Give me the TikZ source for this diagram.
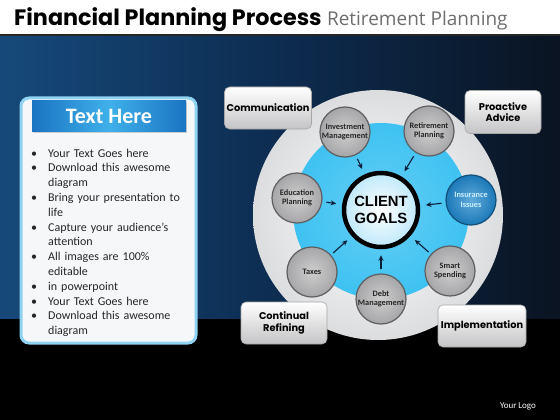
\documentclass[tikz,border=0pt]{standalone}
\usepackage{fontspec}
\setmainfont{Carlito}
\newfontfamily\titlefont{Poppins}
\newfontfamily\subfont{Open Sans}
\newfontfamily\goalfont{Liberation Sans}
\usetikzlibrary{arrows.meta,shadows}
\definecolor{navyL}{HTML}{16497A}
\definecolor{navyM}{HTML}{0D2C50}
\definecolor{navyR}{HTML}{0A1422}
\definecolor{panelEdge}{HTML}{8FD3F2}
\definecolor{panelFill}{HTML}{F5F7F9}
\definecolor{hdrA}{HTML}{1A74C2}
\definecolor{hdrB}{HTML}{3FB0EA}
\definecolor{ringGray}{HTML}{D8D9DB}
\definecolor{cyanRing}{HTML}{3EC2F2}
\definecolor{smallGray}{HTML}{A6A6A8}
\definecolor{smallEdge}{HTML}{5E5E60}
\definecolor{insBlue}{HTML}{1E86CC}
\definecolor{goalFill}{HTML}{BFE9FA}
\definecolor{boxGray}{HTML}{C4C4C6}
\definecolor{subGray}{HTML}{6E6E6E}
\definecolor{arrowCol}{HTML}{0B1E38}
\tikzset{
  small/.style={circle, draw=smallEdge, line width=1.2pt, minimum size=50pt, inner sep=0pt,
    inner color=smallGray!55, outer color=smallGray, align=center, font=\fontsize{8.3}{9.5}\selectfont\bfseries, text=black!85},
  greybox/.style={rounded corners=5pt, draw=gray!70, line width=0.6pt, top color=white, bottom color=boxGray,
    align=center, font=\titlefont\fontsize{9.8}{11.5}\selectfont\bfseries, text=black, inner sep=0pt},
  toarrow/.style={-{Stealth[length=5.5pt,width=5pt]}, line width=1.1pt, draw=arrowCol}
}
\begin{document}
\begin{tikzpicture}[x=1pt,y=-1pt]
\useasboundingbox (0,0) rectangle (560,420);
% background
\fill[white] (0,0) rectangle (560,35);
\fill[black] (0,316) rectangle (560,420);
\shade[left color=navyL, right color=navyR, middle color=navyM] (0,35) rectangle (560,318);
\fill[black!85] (0,34) rectangle (560,36);
% title
\node[anchor=base west, inner sep=0pt] (title) at (14,26)
  {\titlefont\fontsize{22.3}{25}\selectfont\bfseries Financial Planning Process};
\node[anchor=base west, inner sep=0pt, text=subGray] (subtitle) at ([xshift=5pt]title.base east)
  {\subfont\fontsize{19}{21}\selectfont Retirement Planning};
% left panel
\draw[draw=panelEdge, line width=3pt, fill=panelFill, rounded corners=8pt] (21,98) rectangle (196,343);
\node[rectangle, minimum width=154pt, minimum height=30pt, left color=hdrA, right color=hdrA,
  middle color=hdrB, text=white, font=\fontsize{22}{24}\selectfont\bfseries,
  drop shadow={shadow xshift=1pt, shadow yshift=-1.5pt, opacity=0.35}] (hdr) at (109,116) {Text Here};
\node[anchor=north west, inner sep=0pt, text width=162pt, font=\fontsize{12}{14.8}\selectfont, text=black!85]
  (bullets) at (27,142) {%
  \begin{list}{\textbullet}{\setlength{\leftmargin}{21pt}\setlength{\labelwidth}{10pt}\setlength{\labelsep}{11pt}%
    \setlength{\itemsep}{0pt}\setlength{\parsep}{0pt}\setlength{\topsep}{0pt}}
  \item Your Text Goes here
  \item Download this awesome diagram
  \item Bring your presentation to life
  \item Capture your audience’s attention
  \item All images are 100\% editable
  \item in powerpoint
  \item Your Text Goes here
  \item Download this awesome diagram
  \end{list}};
% diagram rings
\node[circle, minimum size=250pt, inner sep=0pt, inner color=white, outer color=ringGray!90] (outer) at (378,215) {};
\node[circle, minimum size=176pt, inner sep=0pt, inner color=cyanRing!80, outer color=cyanRing] (cyan) at (381,211) {};
\node[circle, minimum size=74pt, inner sep=0pt, draw=black, line width=4.5pt, inner color=white, outer color=goalFill,
  align=center, font=\goalfont\fontsize{14.8}{17.5}\selectfont\bfseries] (goal) at (381,210) {CLIENT\\GOALS};
% small circles
\node[small] (inv) at (345,132) {Investment\\Management};
\node[small] (ret) at (429,131) {Retirement\\Planning};
\node[small] (edu) at (297,198) {Education\\Planning};
\node[small, inner color=insBlue!70, outer color=insBlue!90!black, draw=insBlue!60!black, text=white!80!cyan] (ins) at (471,200) {Insurance\\Issues};
\node[small] (tax) at (312,272) {Taxes};
\node[small] (debt) at (381,299) {Debt\\Management};
\node[small] (smart) at (450,271) {Smart\\Spending};
% arrows
\draw[toarrow, shorten <=4pt, shorten >=6pt] (inv) -- (goal);
\draw[toarrow, shorten <=4pt, shorten >=6pt] (ret) -- (goal);
\draw[toarrow, shorten <=4pt, shorten >=6pt] (edu) -- (goal);
\draw[toarrow, shorten <=4pt, shorten >=6pt] (ins) -- (goal);
\draw[toarrow, shorten <=3pt, shorten >=6pt] (tax) -- (goal);
\draw[toarrow, shorten <=4pt, shorten >=6pt] (debt) -- (goal);
\draw[toarrow, shorten <=3pt, shorten >=6pt] (smart) -- (goal);
% grey boxes
\node[greybox, minimum width=87pt, minimum height=42pt] (comm) at (268,108) {Communication};
\node[greybox, minimum width=76pt, minimum height=43pt] (pro) at (503,112) {Proactive\\Advice};
\node[greybox, minimum width=86pt, minimum height=42pt] (cont) at (284,323) {Continual\\Refining};
\node[greybox, minimum width=88pt, minimum height=42pt] (impl) at (482,326) {Implementation};
% logo
\node[text=white, font=\fontsize{9}{10}\selectfont] (logo) at (518,406) {Your Logo};
\end{tikzpicture}
\end{document}
